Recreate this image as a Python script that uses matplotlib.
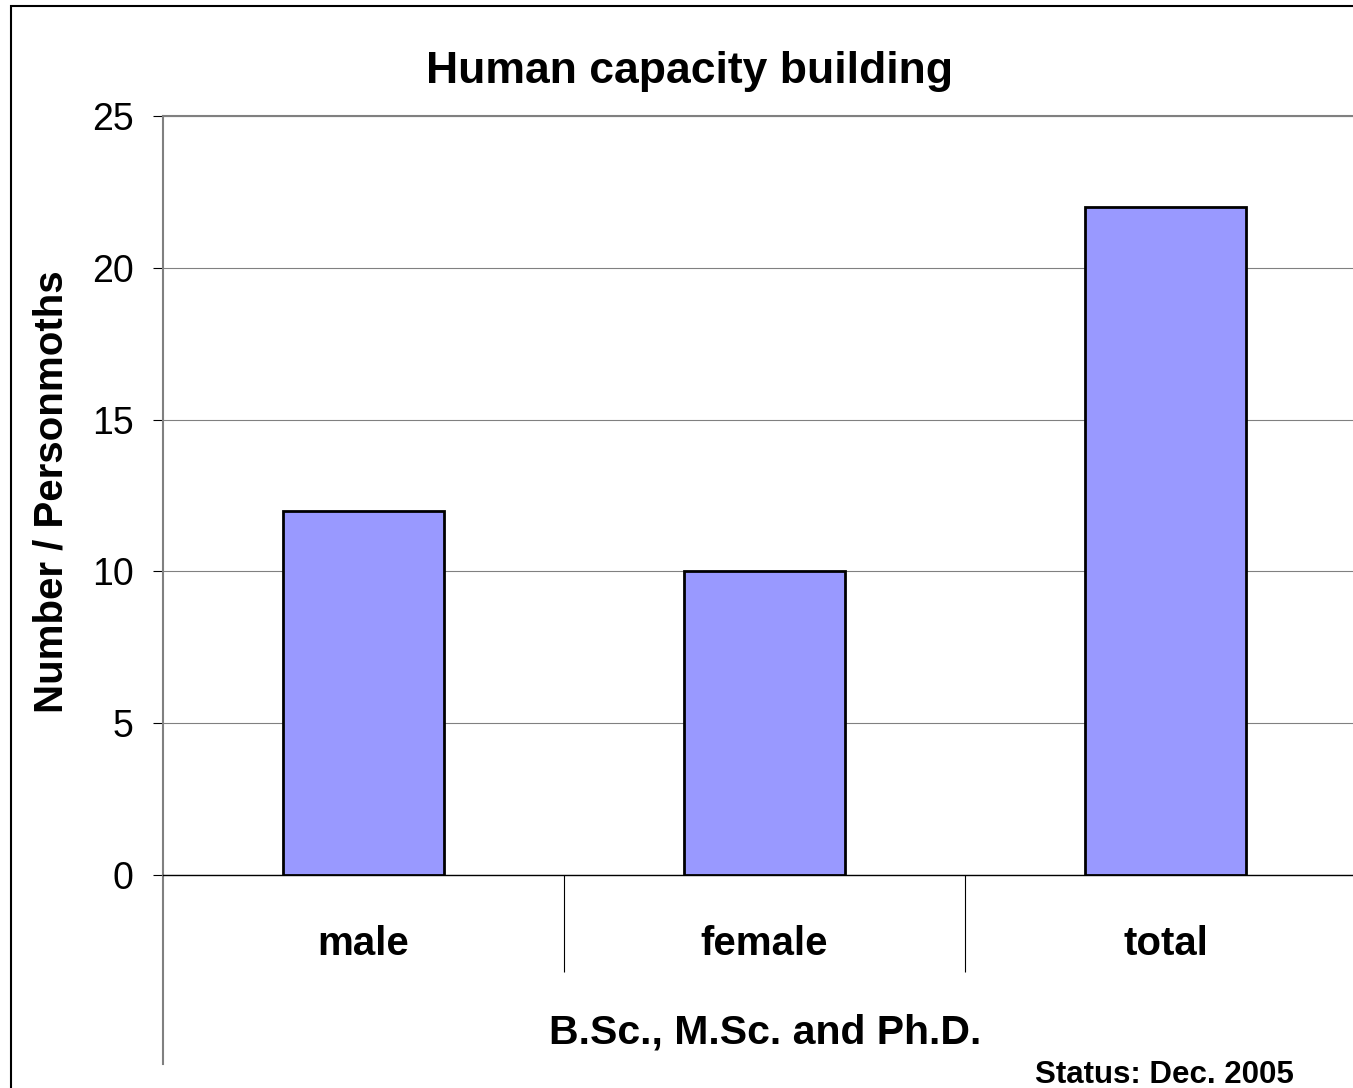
import matplotlib
matplotlib.use("Agg")
import matplotlib.pyplot as plt
from matplotlib.lines import Line2D
from matplotlib.patches import Rectangle

plt.rcParams['font.family'] = ['Liberation Sans', 'DejaVu Sans']

categories = ['male', 'female', 'total']
values = [12, 10, 22]
y_ticks = [0, 5, 10, 15, 20, 25]

W, H = 1353, 1088
fig = plt.figure(figsize=(W / 100, H / 100), dpi=100)

# axes box in pixels: left 163, right 1366 (past the edge), top 116, bottom 875
left, right, top, bottom = 163, 1366, 116, 875
ax = fig.add_axes([left / W, 1 - bottom / H, (right - left) / W, (bottom - top) / H])

ax.bar(range(len(categories)), values, width=0.4, color='#9999FF',
       edgecolor='black', linewidth=2.0, zorder=3)

ax.set_xlim(-0.5, 2.5)
ax.set_ylim(0, 25)
ax.set_yticks(y_ticks)
ax.yaxis.grid(True, color='#808080', linewidth=0.8, zorder=0)

ax.tick_params(axis='y', labelsize=27, length=7.2, width=0.8, color='black', pad=14)
ax.set_xticks(range(len(categories)))
ax.set_xticklabels(categories, fontsize=29, fontweight='bold')
ax.tick_params(axis='x', length=0, pad=36)
ax.set_xticks([0.5, 1.5], minor=True)
ax.tick_params(axis='x', which='minor', length=70, width=0.8, color='black')

ax.spines['right'].set_visible(False)
ax.spines['top'].set_color('#808080')
ax.spines['top'].set_linewidth(1.5)
ax.spines['left'].set_color('#808080')
ax.spines['left'].set_linewidth(1.5)
ax.spines['bottom'].set_color('black')
ax.spines['bottom'].set_linewidth(1.0)

# left spine running down past the category labels
ax.add_line(Line2D([0, 0], [0, -(1064 - bottom) / (bottom - top)], transform=ax.transAxes,
                   color='#808080', linewidth=1.5, clip_on=False))

fig.text(690 / W, 1 - 71 / H, 'Human capacity building', fontsize=32,
         fontweight='bold', ha='center', va='center')
fig.text(52 / W, 1 - 492 / H, 'Number / Personmoths', fontsize=29,
         fontweight='bold', rotation=90, ha='center', va='center')
fig.text(765 / W, 1 - 1032 / H, 'B.Sc., M.Sc. and Ph.D.', fontsize=29.5,
         fontweight='bold', ha='left' if False else 'center', va='center')
fig.text(1035 / W, 1 - 1083 / H, 'Status: Dec. 2005', fontsize=22.5,
         fontweight='bold', ha='left', va='baseline')

# outer frame, only top and left visible
fig.patches.append(Rectangle((11 / W, -0.1), 1.2, 1 - 6 / H + 0.1, transform=fig.transFigure,
                             fill=False, edgecolor='black', linewidth=1.5))

fig.savefig('out.png', dpi=100)
